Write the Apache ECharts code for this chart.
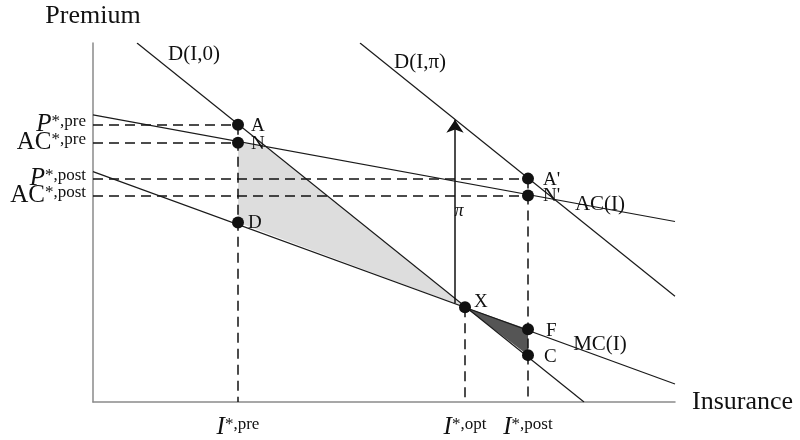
<!DOCTYPE html>
<html>
<head>
<meta charset="utf-8">
<title>Insurance premium</title>
<script src="https://cdn.jsdelivr.net/npm/echarts@6/dist/echarts.min.js"></script>
<style>
html,body{margin:0;padding:0;background:#fff;}
#main{width:800px;height:440px;}
</style>
</head>
<body>
<div id="main"></div>
<script>
// curves, as end points in chart units
var demand0 = [[44, 360], [491, 0]];     // D(I,0)
var demandPi = [[267, 360], [582, 106]]; // D(I,pi)
var avgCost = [[0, 288], [582, 181]];    // AC(I)
var margCost = [[0, 231], [582, 18]];    // MC(I)

// points on the curves
var pointNames = ['A', 'N', 'D', "A'", "N'", 'X', 'F', 'C'];
var pointX = [145, 145, 145, 435, 435, 372, 435, 435];
var pointY = [278, 260, 180, 224, 207, 95, 73, 47];

// quantities and prices
var iPre = 145, iOpt = 372, iPost = 435;
var pPre = 278, acPre = 260, pPost = 224, acPost = 207;
var xTickValues = [iPre, iOpt, iPost];
var xTickSup = ['pre', 'opt', 'post'];
var yTickValues = [pPre, acPre, pPost, acPost];
var yTickBase = ['P', 'AC', 'P', 'AC'];
var yTickSup = ['pre', 'pre', 'post', 'post'];

// shaded areas
var lossArea = [[145, 260], [172, 256], [372, 95], [145, 180]];
var gainArea = [[372, 95], [435, 73], [435, 47]];

// shift arrow (pi)
var arrowFrom = [362, 99], arrowTo = [362, 283];

var serif = 'Liberation Serif';
var ink = '#111';

// where the text labels go (chart units) and per point label offsets
var curveLabels = [
	{name: 'D(I,0)', value: [101, 348]},
	{name: 'D(I,\u03c0)', value: [327, 340]},
	{name: 'AC(I)', value: [507, 198]},
	{name: 'MC(I)', value: [507, 58]}
];
var piLabel = [366, 191];
var pointLabelOffset = {
	'A': [7, 1], 'N': [7, 1], 'D': [4, 1], "A'": [9, 1], "N'": [9, 0],
	'X': [3, -5], 'F': [12, 2], 'C': [10, 2]
};

// rich styles for the starred tick labels
var tickRich = {
	big: {fontFamily: serif, fontSize: 25, color: ink, lineHeight: 24, verticalAlign: 'bottom'},
	bigI: {fontFamily: serif, fontSize: 25, fontStyle: 'italic', color: ink, lineHeight: 24, verticalAlign: 'bottom'},
	sup: {fontFamily: serif, fontSize: 17, color: ink, lineHeight: 13, verticalAlign: 'top'}
};

function polygonSeries(pts, color) {
	return {
		type: 'custom',
		silent: true,
		z: 1,
		data: [0],
		renderItem: function (params, api) {
			var p = [];
			for (var i = 0; i < pts.length; i++) {
				p.push(api.coord(pts[i]));
			}
			return {type: 'polygon', shape: {points: p}, style: {fill: color}};
		}
	};
}

function curve(data) {
	return {
		type: 'line',
		data: data,
		symbol: 'none',
		silent: true,
		z: 3,
		lineStyle: {color: '#1a1a1a', width: 1.2}
	};
}

var guides = [
	[[0, pPre], [iPre, pPre]],
	[[0, acPre], [iPre, acPre]],
	[[0, pPost], [iPost, pPost]],
	[[0, acPost], [iPost, acPost]],
	[[iPre, pPre], [iPre, 0]],
	[[iOpt, pointY[5]], [iOpt, 0]],
	[[iPost, pPost], [iPost, 0]]
];

var pointData = [];
for (var i = 0; i < pointNames.length; i++) {
	var off = pointLabelOffset[pointNames[i]];
	pointData.push({
		name: pointNames[i],
		value: [pointX[i], pointY[i]],
		label: {offset: off}
	});
}

// y tick labels are drawn as text at x=0 (the axis would hide the overlapping ones)
var yTickData = [];
for (var k = 0; k < yTickValues.length; k++) {
	var style = yTickBase[k] == 'P' ? 'bigI' : 'big';
	yTickData.push({
		name: '{' + style + '|' + yTickBase[k] + '}{sup|*,' + yTickSup[k] + '}',
		value: [0, yTickValues[k]]
	});
}

var myChart = echarts.init(document.getElementById('main'));
var option = {
	animation: false,
	backgroundColor: '#fff',
	grid: {left: 93, right: 125, top: 43, bottom: 37},
	xAxis: {
		type: 'value',
		min: 0,
		max: 582,
		splitLine: {show: false},
		axisLine: {lineStyle: {color: '#8a8a8a', width: 1.5}},
		axisTick: {show: false},
		name: 'Insurance',
		nameLocation: 'end',
		nameGap: 17,
		nameTextStyle: {fontFamily: serif, fontSize: 26, color: ink},
		axisLabel: {
			customValues: xTickValues,
			hideOverlap: false,
			margin: 14,
			formatter: function (v) {
				var k = xTickValues.indexOf(v);
				return '{bigI|I}{sup|*,' + xTickSup[k] + '}';
			},
			rich: tickRich
		}
	},
	yAxis: {
		type: 'value',
		min: 0,
		max: 360,
		splitLine: {show: false},
		axisLine: {lineStyle: {color: '#8a8a8a', width: 1.5}},
		axisTick: {show: false},
		axisLabel: {show: false},
		name: 'Premium',
		nameLocation: 'end',
		nameGap: 14,
		nameTextStyle: {fontFamily: serif, fontSize: 26, color: ink}
	},
	series: [
		polygonSeries(lossArea, '#dddddd'),
		polygonSeries(gainArea, '#555555'),
		{
			type: 'lines',
			coordinateSystem: 'cartesian2d',
			silent: true,
			z: 2,
			data: guides.map(function (g) { return {coords: g}; }),
			lineStyle: {color: ink, width: 1.5, type: [10, 6], opacity: 1}
		},
		curve(demand0),
		curve(demandPi),
		curve(avgCost),
		curve(margCost),
		{
			type: 'lines',
			coordinateSystem: 'cartesian2d',
			silent: true,
			z: 4,
			symbol: ['none', 'arrow'],
			symbolSize: 13,
			data: [{coords: [arrowFrom, arrowTo]}],
			lineStyle: {color: ink, width: 1.5, opacity: 1}
		},
		{
			type: 'scatter',
			silent: true,
			z: 5,
			symbolSize: 12,
			itemStyle: {color: '#111', opacity: 1},
			data: pointData,
			label: {
				show: true,
				position: 'right',
				distance: 0,
				formatter: '{b}',
				fontFamily: serif,
				fontSize: 19,
				color: ink
			}
		},
		{
			type: 'scatter',
			silent: true,
			clip: false,
			z: 6,
			symbolSize: 0,
			itemStyle: {opacity: 1},
			data: yTickData,
			label: {
				show: true,
				position: 'left',
				distance: 7,
				formatter: '{b}',
				rich: tickRich
			}
		},
		{
			type: 'scatter',
			silent: true,
			z: 6,
			symbolSize: 0,
			itemStyle: {opacity: 1},
			data: curveLabels,
			label: {
				show: true,
				position: 'inside',
				formatter: '{b}',
				fontFamily: serif,
				fontSize: 21,
				color: ink
			}
		},
		{
			type: 'scatter',
			silent: true,
			z: 6,
			symbolSize: 0,
			itemStyle: {opacity: 1},
			data: [{name: '\u03c0', value: piLabel}],
			label: {
				show: true,
				position: 'inside',
				formatter: '{b}',
				fontFamily: serif,
				fontStyle: 'italic',
				fontSize: 18,
				color: ink
			}
		}
	]
};
myChart.setOption(option);
</script>
</body>
</html>
